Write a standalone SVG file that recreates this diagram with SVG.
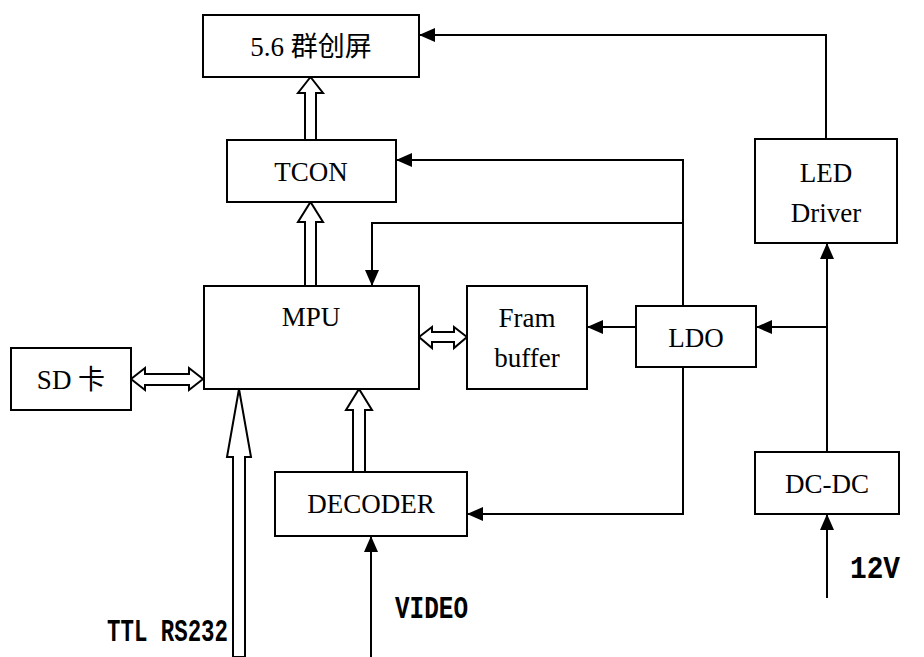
<svg xmlns="http://www.w3.org/2000/svg" width="924" height="657" viewBox="0 0 924 657">
<style>
.box{fill:#fff;stroke:#000;stroke-width:2}
.lbl{font-family:"Liberation Serif","Noto Sans CJK SC",serif;font-size:27px;text-anchor:middle;fill:#000}
.bold{font-family:"Liberation Mono","DejaVu Sans Mono",monospace;font-weight:bold;font-size:32px;fill:#000}
.wire{fill:none;stroke:#000;stroke-width:2;marker-end:url(#ah)}
.hollow{fill:#fff;stroke:#000;stroke-width:2;stroke-linejoin:miter}
</style>
<defs>
<marker id="ah" viewBox="0 0 16 14" refX="16" refY="7" markerWidth="16" markerHeight="14" orient="auto" markerUnits="userSpaceOnUse">
<path d="M0,0 L16,7 L0,14 Z" fill="#000"/>
</marker>
</defs>
<rect width="924" height="657" fill="#fff"/>
<g id="connectors">
<path class="wire" d="M826,139 V35 H419"/>
<path class="wire" d="M683,306 V160 H396"/>
<path class="wire" d="M683,223 H372 V286"/>
<path class="wire" d="M827,452 V243"/>
<path class="wire" d="M827,327 H756"/>
<path class="wire" d="M636,327 H587"/>
<path class="wire" d="M683,367 V514 H467"/>
<path class="wire" d="M371,657 V536"/>
<path class="wire" d="M827,598 V514"/>
<polygon class="hollow" points="305,140 305,93 298,93 310.5,77 323,93 316,93 316,140"/>
<polygon class="hollow" points="305,286 305,222 298,222 310.5,202 323,222 316,222 316,286"/>
<polygon class="hollow" points="353,472 353,410 346,410 359,389 372,410 365,410 365,472"/>
<polygon class="hollow" points="233,657 233,457 227,457 239,389 251,457 245,457 245,657"/>
<polygon class="hollow" points="131,379 145,368 145,374 189,374 189,368 203,379 189,390 189,385 145,385 145,390"/>
<polygon class="hollow" points="419,337 432,327 432,332 454,332 454,327 467,337 454,348 454,342 432,342 432,348"/>
</g>
<g id="screen"><rect class="box" x="203" y="15" width="216" height="62"/><text class="lbl" x="311" y="56">5.6 群创屏</text></g>
<g id="tcon"><rect class="box" x="227" y="140" width="169" height="62"/><text class="lbl" x="311" y="181">TCON</text></g>
<g id="mpu"><rect class="box" x="204" y="286" width="215" height="103"/><text class="lbl" x="311" y="326">MPU</text></g>
<g id="fram"><rect class="box" x="467" y="286" width="120" height="103"/><text class="lbl" x="527" y="327">Fram</text><text class="lbl" x="527" y="367">buffer</text></g>
<g id="ldo"><rect class="box" x="636" y="306" width="120" height="61"/><text class="lbl" x="696" y="347">LDO</text></g>
<g id="led"><rect class="box" x="755" y="139" width="142" height="104"/><text class="lbl" x="826" y="182">LED</text><text class="lbl" x="826" y="222">Driver</text></g>
<g id="sd"><rect class="box" x="11" y="348" width="120" height="62"/><text class="lbl" x="71" y="389">SD 卡</text></g>
<g id="decoder"><rect class="box" x="275" y="472" width="192" height="64"/><text class="lbl" x="371" y="513">DECODER</text></g>
<g id="dcdc"><rect class="box" x="755" y="452" width="144" height="62"/><text class="lbl" x="827" y="493">DC-DC</text></g>
<g id="labels">
<text class="bold" x="107" y="641" textLength="121" lengthAdjust="spacingAndGlyphs">TTL RS232</text>
<text class="bold" x="395" y="618" textLength="73" lengthAdjust="spacingAndGlyphs">VIDEO</text>
<text class="bold" x="850" y="578" textLength="50" lengthAdjust="spacingAndGlyphs">12V</text>
</g>
</svg>
